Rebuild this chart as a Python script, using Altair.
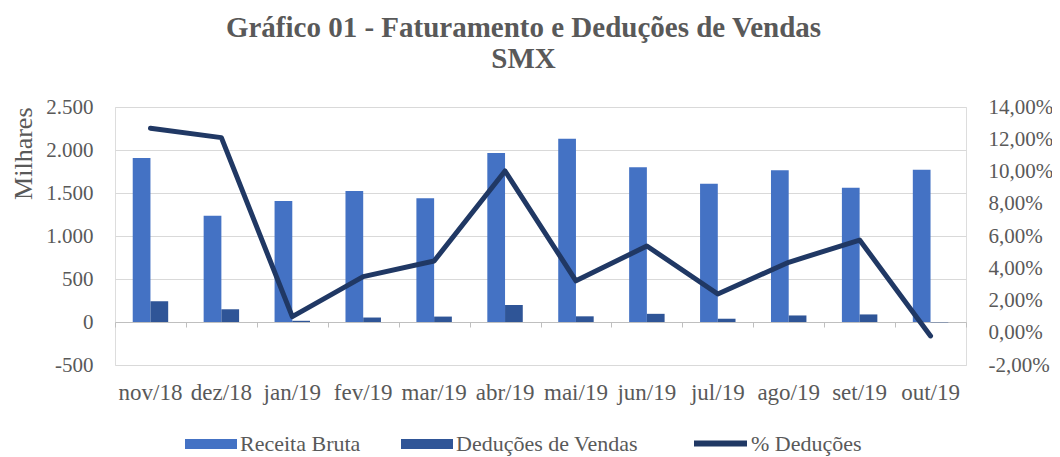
import altair as alt
import pandas as pd

months = ["nov/18", "dez/18", "jan/19", "fev/19", "mar/19", "abr/19",
          "mai/19", "jun/19", "jul/19", "ago/19", "set/19", "out/19"]
receita = [1907, 1236, 1407, 1523, 1438, 1965, 2131, 1799, 1608, 1764, 1562, 1771]
deducoes = [240, 148, 14, 52, 63, 198, 66, 95, 38, 76, 88, -4]
pct_deducoes = [0.1268, 0.1210, 0.0100, 0.0348, 0.0445, 0.1003,
                0.0322, 0.0538, 0.0240, 0.0437, 0.0575, -0.0020]

series_bars = ["Receita Bruta", "Deduções de Vendas"]
series_line = "% Deduções"
left_ticks = [-500, 0, 500, 1000, 1500, 2000, 2500]
right_ticks = [-0.02, 0.0, 0.02, 0.04, 0.06, 0.08, 0.10, 0.12, 0.14]

FONT = "Liberation Serif"
TXT = "#595959"

bars_df = pd.DataFrame({
    "mes": months * 2,
    "serie": [series_bars[0]] * len(months) + [series_bars[1]] * len(months),
    "valor": receita + deducoes,
})
line_df = pd.DataFrame({"mes": months, "pct": pct_deducoes, "serie": [series_line] * len(months)})

x_scale = alt.Scale(domain=months, paddingInner=0, paddingOuter=0)

bars = alt.Chart(bars_df).mark_bar().encode(
    x=alt.X("mes:N", sort=months, scale=x_scale,
            axis=alt.Axis(title=None, orient="bottom", domain=False, ticks=False,
                          labelAngle=0, labelFont=FONT, labelFontSize=23, labelColor=TXT,
                          labelPadding=16, grid=False)),
    xOffset=alt.XOffset("serie:N", sort=series_bars,
                        scale=alt.Scale(domain=series_bars, paddingInner=0, paddingOuter=1)),
    y=alt.Y("valor:Q", scale=alt.Scale(domain=[-500, 2500], nice=False, zero=False),
            axis=alt.Axis(title="Milhares", values=left_ticks, domain=False, ticks=False,
                          grid=True, gridColor="#D9D9D9", gridWidth=1,
                          labelFont=FONT, labelFontSize=21, labelColor=TXT, labelPadding=22,
                          labelExpr="replace(replace(format(datum.value, ','), ',', '.'), '\u2212', '-')",
                          titleFont=FONT, titleFontSize=26, titleColor=TXT, titleFontWeight="normal",
                          titleAnchor="end", titlePadding=9)),
    color=alt.Color("serie:N", sort=series_bars,
                    scale=alt.Scale(domain=series_bars, range=["#4472C4", "#2F5597"]),
                    legend=alt.Legend(title=None, orient="none", direction="horizontal",
                                      legendX=70, legendY=311, columns=2, columnPadding=40,
                                      symbolType="M-1,-0.19H1V0.19H-1Z", symbolSize=2704,
                                      symbolStrokeWidth=0, labelOffset=3, padding=0,
                                      labelLimit=400,
                                      labelFont=FONT, labelFontSize=22, labelColor=TXT)),
)

line = alt.Chart(line_df).mark_line(strokeWidth=5, strokeCap="round", strokeJoin="round").encode(
    x=alt.X("mes:N", sort=months, scale=x_scale,
            axis=alt.Axis(title=None, orient="bottom", offset=-43, labels=False,
                          domain=True, domainColor="#BFBFBF", domainWidth=1,
                          ticks=True, tickColor="#BFBFBF", tickSize=5, tickWidth=1,
                          tickBand="extent", grid=False)),
    y=alt.Y("pct:Q", scale=alt.Scale(domain=[-0.02, 0.14], nice=False, zero=False),
            axis=alt.Axis(title=None, orient="right", values=right_ticks, domain=False,
                          ticks=False, grid=False, labelFont=FONT, labelFontSize=21,
                          labelColor=TXT, labelPadding=22,
                          labelExpr="replace(replace(format(datum.value, '.2%'), '.', ','), '\u2212', '-')")),
    stroke=alt.Stroke("serie:N", scale=alt.Scale(domain=[series_line], range=["#203864"]),
                      legend=alt.Legend(title=None, orient="none", direction="horizontal",
                                        legendX=576, legendY=307, symbolType="stroke",
                                        symbolSize=2809, symbolStrokeWidth=6, labelOffset=1,
                                        padding=0, labelLimit=400, labelFont=FONT,
                                        labelFontSize=22, labelColor=TXT)),
)

chart = alt.layer(bars, line).resolve_scale(
    y="independent", color="independent"
).resolve_axis(x="independent", y="independent").properties(
    width=851,
    height=258,
    autosize=alt.AutoSizeParams(type="none"),
    padding={"left": 107, "top": 99, "right": 86, "bottom": 92},
    title=alt.TitleParams(
        text=["Gráfico 01 - Faturamento e Deduções de Vendas", "SMX"],
        font=FONT, fontSize=29, fontWeight="bold", color=TXT,
        anchor="middle", lineHeight=31, offset=22, dx=-17,
    ),
).configure_view(stroke=None).configure(background="white")

chart.save("out.html", embed_options={"renderer": "svg", "actions": False})
